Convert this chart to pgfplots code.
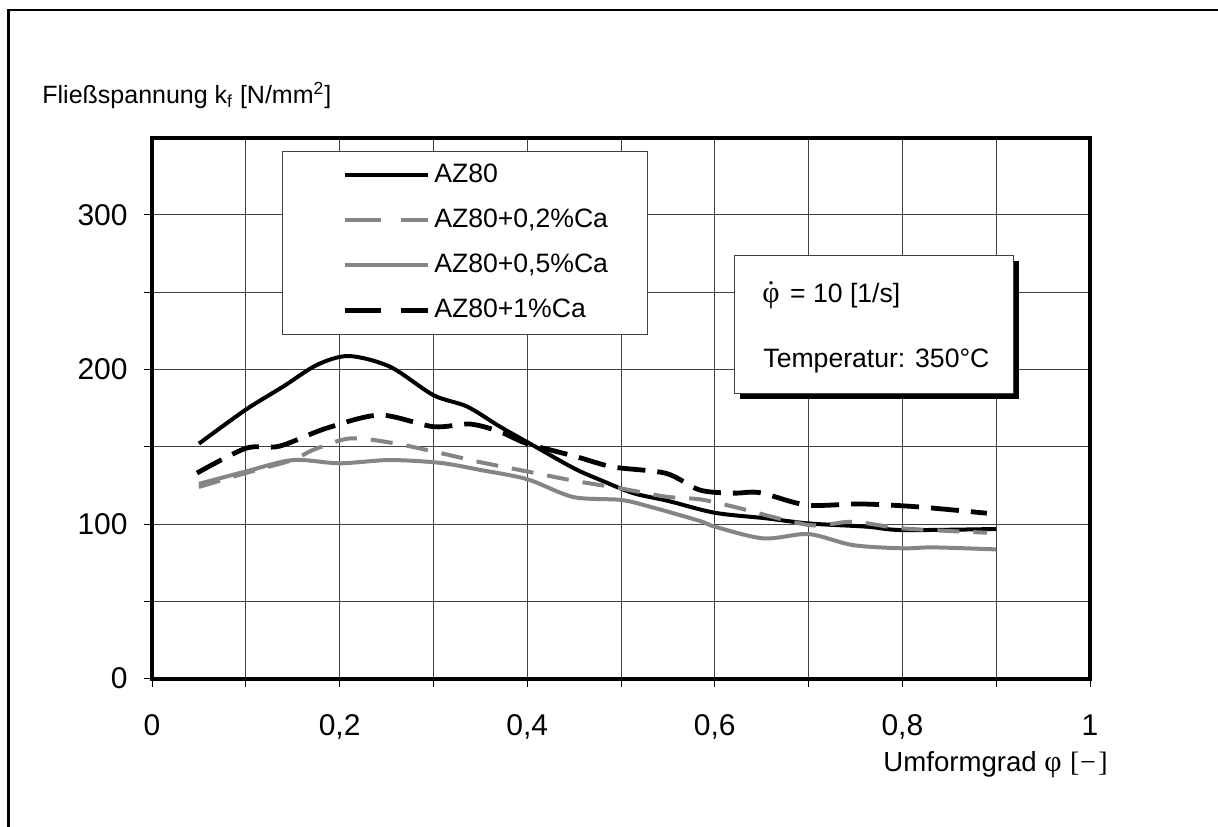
\documentclass[border=0pt]{standalone}
\usepackage{pgfplots}
\pgfplotsset{compat=1.18}
\usepackage{fontspec}
\setmainfont{Liberation Sans}
\newfontfamily\symf{Liberation Serif}
\usetikzlibrary{shadows}
\definecolor{lgray}{HTML}{858585}
\definecolor{gridc}{HTML}{404040}

\pgfplotstableread{
x y
0.05 152
0.10 174
0.14 189
0.176 203
0.21 208.7
0.254 201.7
0.30 183.4
0.336 176
0.371 163
0.406 151
0.45 136
0.478 128.5
0.513 120
0.55 115
0.60 107.3
0.655 103.7
0.70 100.4
0.762 98.3
0.80 96.1
0.90 96.8
}\azeighty

\pgfplotstableread{
x y
0.05 124
0.10 133
0.15 141.5
0.172 148
0.211 155.4
0.257 152.4
0.307 146
0.35 140
0.40 134
0.45 128
0.50 123
0.548 117.7
0.584 116
0.62 111.2
0.70 99.4
0.747 101.5
0.80 97.2
0.89 94.4
}\caA

\pgfplotstableread{
x y
0.05 126
0.10 134
0.15 141.4
0.20 139.3
0.253 141.4
0.307 139.6
0.35 135
0.40 129
0.449 117.5
0.50 115.6
0.531 111.2
0.584 102
0.60 98.3
0.652 90.7
0.70 93.5
0.747 86.4
0.80 84.3
0.833 84.9
0.90 83.6
}\caB

\pgfplotstableread{
x y
0.048 133
0.10 149
0.136 150.4
0.186 162
0.243 170.5
0.30 163
0.339 164.7
0.371 159.7
0.40 152
0.45 144
0.491 137
0.548 132.8
0.584 122
0.62 120
0.648 120.3
0.698 112.3
0.755 113
0.815 111.2
0.89 107
}\caC

\begin{document}
\begin{tikzpicture}
\useasboundingbox (0,0) rectangle (609pt,-413pt);
\fill[white] (0,0) rectangle (609pt,-413pt);
\draw[line width=1.3pt] (4.2pt,-420pt) -- (4.2pt,-5pt) -- (620pt,-5pt);
\begin{axis}[
  scale only axis, width=469pt, height=270.5pt,
  at={(76pt,-339.3pt)}, anchor=south west,
  xmin=0, xmax=1, ymin=0, ymax=350,
  xtick={0,0.2,0.4,0.6,0.8,1}, minor xtick={0.1,0.3,0.5,0.7,0.9},
  ytick={0,100,200,300}, minor ytick={50,150,250},
  xtick pos=bottom, ytick pos=left,
  grid=both,
  major grid style={line width=0.5pt, gridc},
  minor grid style={line width=0.5pt, gridc},
  tick align=outside, major tick length=4pt, minor tick length=4pt,
  every tick/.style={black, line width=0.5pt},
  axis line style={line width=2pt},
  /pgf/number format/assume math mode=true,
  /pgf/number format/use comma,
  ticklabel style={font=\fontsize{15}{18}\selectfont, inner sep=0pt},
  xticklabel style={yshift=-14pt},
  yticklabel style={xshift=-8pt},
  legend style={at={(0.1386,0.976)}, anchor=north west,
    draw=gridc, line width=0.5pt, fill=white,
    inner xsep=0pt, inner ysep=5.5pt,
    font=\fontsize{13.3}{16}\selectfont,
    row sep=9.5pt,
    nodes={inner sep=0pt, text height=10pt, text depth=3pt},
    /tikz/every odd column/.append style={column sep=2pt}},
  legend cell align=left,
  legend image code/.code={\path (0pt,0pt); \draw[#1] (30pt,0pt) -- (71.5pt,0pt);},
]
\addplot[black, line width=2pt, smooth, tension=0.5] table {\azeighty};
\addlegendentry{\makebox[106.5pt][l]{AZ80}}
\addplot[lgray, line width=2pt, smooth, tension=0.5, dash pattern=on 11pt off 7pt,
  legend image post style={dash pattern=on 18pt off 10pt}] table {\caA};
\addlegendentry{\makebox[106.5pt][l]{AZ80+0,2\%Ca}}
\addplot[lgray, line width=2pt, smooth, tension=0.5] table {\caB};
\addlegendentry{\makebox[106.5pt][l]{AZ80+0,5\%Ca}}
\addplot[black, line width=2.4pt, smooth, tension=0.5, dash pattern=on 14pt off 6pt,
  legend image post style={dash pattern=on 18pt off 10pt}] table {\caC};
\addlegendentry{\makebox[106.5pt][l]{AZ80+1\%Ca}}

\node[draw=gridc, line width=0.5pt, fill=white, anchor=north west,
  minimum width=139.5pt, minimum height=69pt, inner sep=0pt,
  drop shadow={shadow xshift=2.5pt, shadow yshift=-2.5pt, opacity=1, fill=black}]
  (tb) at (axis cs:0.6205,274) {};
\end{axis}
\node[anchor=base west, font=\fontsize{13.3}{16}\selectfont, inner sep=0pt]
  at ([xshift=14pt,yshift=-23.5pt]tb.north west)
  {{\symf\fontsize{15}{16}\selectfont\ooalign{φ\cr\hidewidth\raisebox{9pt}{\fontsize{14}{14}\selectfont.}\hidewidth\cr}}\hspace{1.5pt} = 10 [1/s]};
\node[anchor=base west, font=\fontsize{13.3}{16}\selectfont, inner sep=0pt]
  at ([xshift=14.5pt,yshift=-56pt]tb.north west) {Temperatur: 350°C};
\node[anchor=base west, font=\fontsize{12.5}{16}\selectfont, inner sep=0pt]
  at (21pt,-51.7pt) {Fließspannung k\textsubscript{f} [N/mm\textsuperscript{2}]};
\node[anchor=base west, font=\fontsize{13.8}{16}\selectfont, inner sep=0pt]
  at (441.5pt,-385.8pt) {Umformgrad};
\node[anchor=base west, font=\symf\fontsize{15}{16}\selectfont, inner sep=0pt]
  at (522pt,-385.8pt) {φ};
\node[anchor=base west, font=\symf\fontsize{14}{16}\selectfont, inner sep=0pt]
  at (534.8pt,-385.8pt) {[\kern0.4pt−\kern1.2pt]};
\end{tikzpicture}
\end{document}
